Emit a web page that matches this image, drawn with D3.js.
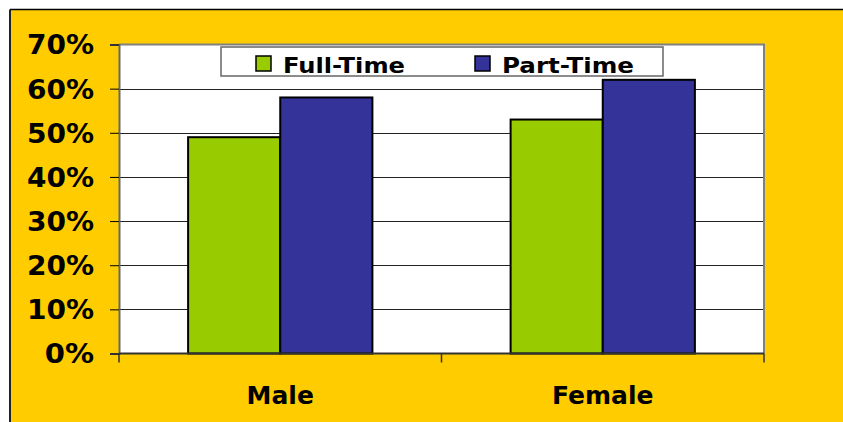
<!DOCTYPE html>
<html>
<head>
<meta charset="utf-8">
<script src="https://cdn.jsdelivr.net/npm/d3@7"></script>
<style>
  html, body { margin: 0; padding: 0; background: #ffffff; }
  svg { display: block; }
  text { font-family: "DejaVu Sans", Verdana, sans-serif; font-weight: bold; fill: #000; }
</style>
</head>
<body>
<svg id="chart" width="843" height="422"></svg>
<script>
// Share of each group, by employment type
const categories = ["Male", "Female"];
const seriesNames = ["Full-Time", "Part-Time"];
const fullTime = [0.49, 0.53];
const partTime = [0.58, 0.62];
const yTicks = [0, 0.1, 0.2, 0.3, 0.4, 0.5, 0.6, 0.7];
const seriesColors = ["#99CC00", "#333399"];

const svg = d3.select("#chart");
const W = 843, H = 422;

// Yellow frame with a dark edge on the top and left
svg.append("rect").attr("x", 10).attr("y", 9.5).attr("width", W - 10).attr("height", H - 9.5)
  .attr("fill", "#FFCC00");
svg.append("line").attr("x1", 10).attr("x2", W).attr("y1", 9.5).attr("y2", 9.5)
  .attr("stroke", "#000").attr("stroke-width", 1.5);
svg.append("line").attr("x1", 10).attr("x2", 10).attr("y1", 9.5).attr("y2", H)
  .attr("stroke", "#222").attr("stroke-width", 2);

const plot = { left: 119, right: 764, top: 44.5, bottom: 353.5 };

const x0 = d3.scaleBand().domain(categories).range([plot.left, plot.right]).paddingInner(0).paddingOuter(0);
// Gap of 150% of a bar between clusters
const groupFrac = 2 / 3.5;
const x1 = d3.scaleBand().domain(seriesNames)
  .range([0, x0.bandwidth() * groupFrac]).padding(0);
const y = d3.scaleLinear().domain([0, 0.7]).range([plot.bottom, plot.top]);

// Plot background
svg.append("rect").attr("x", plot.left).attr("y", plot.top)
  .attr("width", plot.right - plot.left).attr("height", plot.bottom - plot.top)
  .attr("fill", "#ffffff");

// Horizontal gridlines
svg.append("g").selectAll("line").data(yTicks.filter(t => t > 0 && t < 0.7)).join("line")
  .attr("x1", plot.left).attr("x2", plot.right)
  .attr("y1", d => Math.round(y(d)) + 0.5).attr("y2", d => Math.round(y(d)) + 0.5)
  .attr("stroke", "#222").attr("stroke-width", 1);

// Plot-area border on top and right
svg.append("path")
  .attr("d", `M${plot.left},${plot.top} H${plot.right} V${plot.bottom}`)
  .attr("fill", "none").attr("stroke", "#808080").attr("stroke-width", 2);

// Bars
const rows = categories.map((c, i) => ({ cat: c, values: [fullTime[i], partTime[i]] }));
const groups = svg.append("g").selectAll("g").data(rows).join("g")
  .attr("transform", d => `translate(${x0(d.cat) + x0.bandwidth() * (1 - groupFrac) / 2},0)`);
groups.selectAll("rect").data(d => d.values.map((v, j) => ({ v, s: seriesNames[j], j }))).join("rect")
  .attr("x", d => x1(d.s))
  .attr("y", d => y(d.v))
  .attr("width", x1.bandwidth())
  .attr("height", d => y(0) - y(d.v))
  .attr("fill", d => seriesColors[d.j])
  .attr("stroke", "#000").attr("stroke-width", 2);

// Y axis
const fmt = d3.format(".0%");
const yAxis = svg.append("g").attr("transform", `translate(${plot.left},0)`)
  .call(d3.axisLeft(y).tickValues(yTicks).tickFormat(fmt).tickSize(9).tickPadding(16));
yAxis.select(".domain").attr("stroke", "#666").attr("stroke-width", 2);
yAxis.selectAll(".tick line").attr("stroke", "#000").attr("stroke-width", 1);
yAxis.selectAll(".tick text").attr("font-size", 26).attr("font-family", "DejaVu Sans, sans-serif")
  .attr("font-weight", "bold").attr("fill", "#000").attr("dy", "0.36em")
  .attr("textLength", d => (fmt(d).length - 1) * 17.8 + 31.5)
  .attr("lengthAdjust", "spacingAndGlyphs");

// X axis: ticks between categories
const xAxis = svg.append("g").attr("transform", `translate(0,${plot.bottom})`);
xAxis.append("line").attr("x1", plot.left).attr("x2", plot.right).attr("y1", 0).attr("y2", 0)
  .attr("stroke", "#333").attr("stroke-width", 2);
const boundaries = [plot.left, x0("Female"), plot.right];
xAxis.selectAll(".bt").data(boundaries).join("line").attr("class", "bt")
  .attr("x1", d => d).attr("x2", d => d).attr("y1", 0).attr("y2", 9)
  .attr("stroke", "#333").attr("stroke-width", 1.5);
xAxis.selectAll("text").data(categories).join("text")
  .attr("x", d => x0(d) + x0.bandwidth() / 2).attr("y", 50)
  .attr("text-anchor", "middle").attr("font-size", 25).text(d => d);

// Legend
const legend = svg.append("g");
legend.append("rect").attr("x", 221).attr("y", 47).attr("width", 442).attr("height", 29)
  .attr("fill", "#fff").attr("stroke", "#666").attr("stroke-width", 1.5);
const legendX = [256, 475];
const legendLen = [122, 132];
seriesNames.forEach((s, j) => {
  legend.append("rect").attr("x", legendX[j]).attr("y", 56).attr("width", 15).attr("height", 15)
    .attr("fill", seriesColors[j]).attr("stroke", "#000").attr("stroke-width", 1.5);
  legend.append("text").attr("x", legendX[j] + 27).attr("y", 72.5)
    .attr("font-size", 22).attr("textLength", legendLen[j]).attr("lengthAdjust", "spacingAndGlyphs")
    .text(s);
});
</script>
</body>
</html>
